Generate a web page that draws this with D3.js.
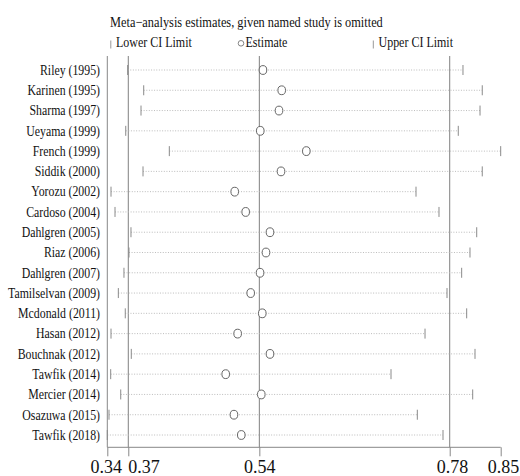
<!DOCTYPE html>
<html>
<head>
<meta charset="utf-8">
<script src="https://cdn.jsdelivr.net/npm/d3@7"></script>
<style>
  html, body { margin: 0; padding: 0; background: #fff; }
  svg { display: block; }
  text { font-family: "Liberation Serif", "Times New Roman", serif; fill: #111; }
</style>
</head>
<body>
<svg id="chart" width="520" height="476"></svg>
<script>
// Leave-one-out sensitivity analysis: pooled estimate with each study omitted
const studies = [
  "Riley (1995)", "Karinen (1995)", "Sharma (1997)", "Ueyama (1999)", "French (1999)",
  "Siddik (2000)", "Yorozu (2002)", "Cardoso (2004)", "Dahlgren (2005)", "Riaz (2006)",
  "Dahlgren (2007)", "Tamilselvan (2009)", "Mcdonald (2011)", "Hasan (2012)",
  "Bouchnak (2012)", "Tawfik (2014)", "Mercier (2014)", "Osazuwa (2015)", "Tawfik (2018)"
];
const lowerCI = [
  0.3664, 0.3872, 0.3837, 0.3639, 0.4204,
  0.3863, 0.3448, 0.3500, 0.3707, 0.3681,
  0.3616, 0.3543, 0.3633, 0.3448,
  0.3711, 0.3444, 0.3574, 0.3422, 0.3400
];
const estimate = [
  0.5418, 0.5661, 0.5626, 0.5383, 0.5980,
  0.5652, 0.5052, 0.5194, 0.5509, 0.5457,
  0.5380, 0.5259, 0.5409, 0.5090,
  0.5509, 0.4935, 0.5396, 0.5042, 0.5137
];
const upperCI = [
  0.8011, 0.8261, 0.8232, 0.7950, 0.8500,
  0.8261, 0.7402, 0.7700, 0.8189, 0.8102,
  0.7994, 0.7804, 0.8059, 0.7519,
  0.8167, 0.7078, 0.8137, 0.7419, 0.7752
];
// Combined estimate with all studies: lower limit, estimate, upper limit
const overall = [0.3672, 0.5371, 0.7839];
const titleText = "Meta\u2212analysis estimates, given named study is omitted";
const legendLabels = ["Lower CI Limit", "Estimate", "Upper CI Limit"];

const rows = studies.map((s, i) => ({ study: s, lo: lowerCI[i], est: estimate[i], hi: upperCI[i] }));
const minLo = d3.min(lowerCI), maxHi = d3.max(upperCI);
const tickValues = [minLo, ...overall, maxHi];

const svg = d3.select("#chart");
const plotTop = 56, axisY = 447.3;
const squeeze = 0.81;

const x = d3.scaleLinear().domain([minLo, maxHi]).range([107.3, 500.7]);
const y = d3.scalePoint().domain(studies).range([70, 435]);

// Title and legend
svg.append("g").attr("transform", "translate(110,26.5) scale(0.835,1)")
  .append("text").attr("font-size", 14.8).text(titleText);

const legend = svg.append("g");
legend.append("line").attr("x1", 110.8).attr("x2", 110.8).attr("y1", 40.5).attr("y2", 48.5)
  .attr("stroke", "#999").attr("stroke-width", 1);
legend.append("g").attr("transform", "translate(116,46.5) scale(" + squeeze + ",1)")
  .append("text").attr("font-size", 14.8).text(legendLabels[0]);
legend.append("circle").attr("cx", 241).attr("cy", 43.3).attr("r", 2.8)
  .attr("fill", "none").attr("stroke", "#777").attr("stroke-width", 0.9);
legend.append("g").attr("transform", "translate(245.5,46.5) scale(" + squeeze + ",1)")
  .append("text").attr("font-size", 14.8).text(legendLabels[1]);
legend.append("line").attr("x1", 373.3).attr("x2", 373.3).attr("y1", 40.5).attr("y2", 48.5)
  .attr("stroke", "#999").attr("stroke-width", 1);
legend.append("g").attr("transform", "translate(378.5,46.5) scale(" + squeeze + ",1)")
  .append("text").attr("font-size", 14.8).text(legendLabels[2]);

// Left frame and reference lines at the combined estimate and its limits
svg.append("line").attr("x1", x(minLo)).attr("x2", x(minLo))
  .attr("y1", plotTop).attr("y2", axisY).attr("stroke", "#888").attr("stroke-width", 1);
svg.selectAll("line.ref").data(overall).join("line").attr("class", "ref")
  .attr("x1", d => x(d)).attr("x2", d => x(d))
  .attr("y1", plotTop).attr("y2", axisY)
  .attr("stroke", "#808080").attr("stroke-width", 1);

// Study labels
svg.selectAll("g.lab").data(rows).join("g").attr("class", "lab")
  .attr("transform", d => "translate(100," + (y(d.study) + 4.8) + ") scale(" + squeeze + ",1)")
  .append("text").attr("text-anchor", "end").attr("font-size", 14.6).text(d => d.study);

// Dotted CI spans, limit ticks and estimate markers
const g = svg.append("g");
g.selectAll("line.span").data(rows).join("line").attr("class", "span")
  .attr("x1", d => x(d.lo)).attr("x2", d => x(d.hi))
  .attr("y1", d => y(d.study)).attr("y2", d => y(d.study))
  .attr("stroke", "#b4b4b4").attr("stroke-width", 0.9).attr("stroke-dasharray", "1,1.6");
g.selectAll("line.lo").data(rows).join("line").attr("class", "lo")
  .attr("x1", d => x(d.lo)).attr("x2", d => x(d.lo))
  .attr("y1", d => y(d.study) - 5).attr("y2", d => y(d.study) + 5)
  .attr("stroke", "#8a8a8a").attr("stroke-width", 1);
g.selectAll("line.hi").data(rows).join("line").attr("class", "hi")
  .attr("x1", d => x(d.hi)).attr("x2", d => x(d.hi))
  .attr("y1", d => y(d.study) - 5).attr("y2", d => y(d.study) + 5)
  .attr("stroke", "#8a8a8a").attr("stroke-width", 1);
g.selectAll("ellipse.est").data(rows).join("ellipse").attr("class", "est")
  .attr("cx", d => x(d.est)).attr("cy", d => y(d.study))
  .attr("rx", 3.8).attr("ry", 4.4)
  .attr("fill", "#fff").attr("stroke", "#666").attr("stroke-width", 1);

// Bottom axis labelled at the extreme limits and the combined values
const axis = d3.axisBottom(x).tickValues(tickValues).tickFormat(d3.format(".2f"))
  .tickSize(9).tickPadding(4.4);
const ax = svg.append("g").attr("transform", "translate(0," + axisY + ")").call(axis);
ax.select(".domain").attr("stroke", "#888").attr("d", "M" + x(minLo) + ",0H" + x(maxHi));
ax.selectAll(".tick line").attr("stroke", "#888");
ax.selectAll(".tick text").attr("font-family", "Liberation Serif, serif")
  .attr("font-size", 18).attr("fill", "#111");
// the lower-limit label sits just right of its tick so it clears the minimum label
ax.selectAll(".tick text").filter((d, i) => i === 1)
  .attr("text-anchor", "start").attr("x", -0.6);
ax.selectAll(".tick text").filter((d, i) => i === 0).attr("x", -1.5);
ax.selectAll(".tick text").filter((d, i) => i >= 3).attr("x", 2.4);
</script>
</body>
</html>
